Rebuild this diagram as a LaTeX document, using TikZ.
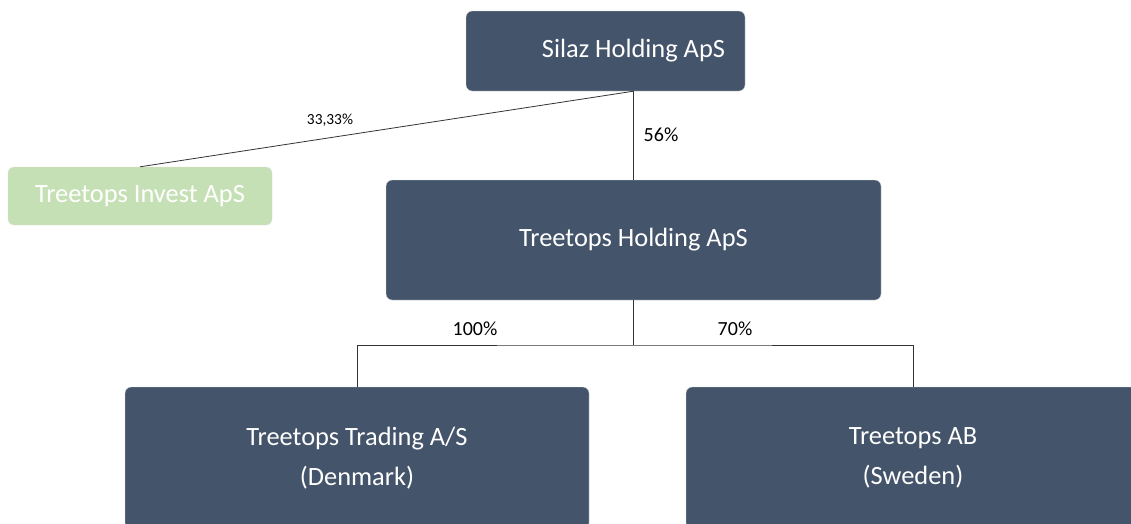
\documentclass[tikz,border=0pt]{standalone}
\usepackage{fontspec}
\setmainfont{Carlito}
\usetikzlibrary{calc}

\definecolor{slate}{HTML}{44546A}
\definecolor{leaf}{HTML}{C6E0B5}

\tikzset{
  company/.style={draw=gray!25,fill=slate,text=white,rounded corners=6pt,
    align=center,font=\fontsize{26.4}{40}\selectfont,inner sep=0pt},
  minority/.style={company,fill=leaf},
  share/.style={font=\fontsize{20}{24}\selectfont},
  link/.style={draw=black!80,line width=0.8pt}
}

\begin{document}
\begin{tikzpicture}[x=1pt,y=-1pt]
\useasboundingbox (0,0) rectangle (1131,523);

% ownership boxes
\node[company,minimum width=279,minimum height=80] (silaz) at (605.5,51) {\hspace*{56pt}Silaz Holding ApS};
\node[minority,minimum width=264,minimum height=58] (invest) at (140,196) {Treetops Invest ApS};
\node[company,minimum width=495,minimum height=120] (holding) at (633.5,240) {Treetops Holding ApS};
\node[company,minimum width=464,minimum height=142] (trading) at (357,458) {Treetops Trading A/S\\(Denmark)};
\node[company,minimum width=454,minimum height=142] (ab) at (913,458) {Treetops AB\\(Sweden)};

% lines with stakes
\coordinate (split) at (holding.south |- 0,345);
\draw[link] (holding.north) -- (holding.north |- silaz.south);
\draw[link] (holding.north |- silaz.south) -- (invest.north);
\draw[link] (holding.south) -- (split);
\draw[link] (trading.north) |- (split) -| (ab.north);

\node[share,font=\fontsize{15.4}{18}\selectfont] (p1) at (330,120) {33,33\%};
\node[share] (p2) at (661,135) {56\%};
\node[share] (p3) at (475,329) {100\%};
\node[share] (p4) at (735,329) {70\%};
\end{tikzpicture}
\end{document}
